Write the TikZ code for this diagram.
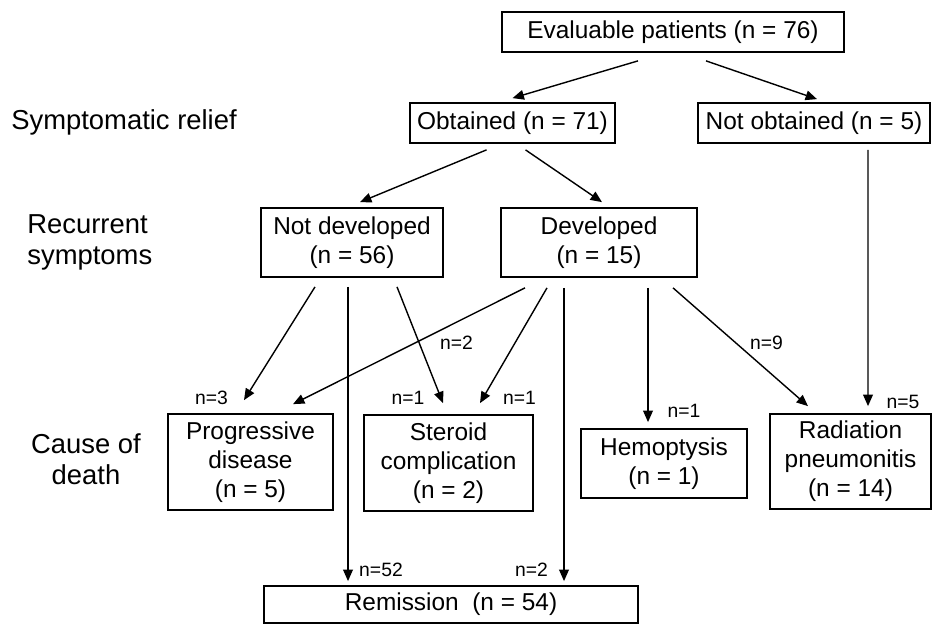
\documentclass[tikz,border=0pt]{standalone}
\usepackage{fontspec}
\setmainfont{Liberation Sans}
\usetikzlibrary{calc,arrows.meta}

\begin{document}
\begin{tikzpicture}[
  x=0.02cm, y=-0.02cm,
  box/.style={draw, line width=1pt, align=center, inner sep=0pt,
    font=\fontsize{13.9}{16.5}\selectfont},
  side/.style={align=center, inner sep=0pt, font=\fontsize{15.6}{17.6}\selectfont},
  num/.style={inner sep=0pt, font=\fontsize{11}{13}\selectfont},
  link/.style={draw, line width=0.8pt, -{Triangle[length=6.5pt,width=5.5pt]}}
]
\useasboundingbox (0,0) rectangle (932,625);

\node[side] (relief) at (124,122) {Symptomatic relief};
\node[side, align=left, anchor=west] (recur) at (27,242) {Recurrent\\symptoms};
\node[side] (cause) at (86,459) {Cause of\\death};

\node[box, minimum width=6.84cm, minimum height=0.8cm] (eval) at (673,32) {Evaluable patients (n = 76)};
\node[box, minimum width=4.1cm, minimum height=0.8cm] (obt) at (512.5,123) {Obtained (n = 71)};
\node[box, minimum width=4.64cm, minimum height=0.8cm] (nob) at (814,123) {Not obtained (n = 5)};
\node[box, minimum width=3.64cm, minimum height=1.38cm] (nodev) at (352,242.5) {Not developed\\(n = 56)};
\node[box, minimum width=3.92cm, minimum height=1.38cm] (dev) at (599,242.5) {Developed\\(n = 15)};
\node[box, minimum width=3.3cm, minimum height=1.92cm] (prog) at (250.5,462) {Progressive\\disease\\(n = 5)};
\node[box, minimum width=3.38cm, minimum height=1.92cm] (ster) at (448.5,463) {Steroid\\complication\\(n = 2)};
\node[box, minimum width=3.32cm, minimum height=1.38cm] (hemo) at (664,463.5) {Hemoptysis\\(n = 1)};
\node[box, minimum width=3.22cm, minimum height=1.9cm] (rad) at (850.5,461.5) {Radiation\\pneumonitis\\(n = 14)};
\node[box, minimum width=7.48cm, minimum height=0.74cm] (rem) at (451,604.5) {Remission~~(n = 54)};

\draw[link] ($(eval.south)+(-35,8)$) -- ($(obt.north)+(0,-4)$);
\draw[link] ($(eval.south)+(33,8)$) -- ($(nob.north)+(3,-3)$);
\draw[link] ($(obt.south)+(-26,6)$) -- ($(nodev.north)+(8,-5)$);
\draw[link] ($(obt.south)+(13,6)$) -- ($(dev.north)+(3,-5)$);
\draw[link] ($(nob.south)+(54,6)$) -- ($(rad.north)+(17.5,-7)$);
\draw[link] ($(nodev.south)+(-37,9)$) -- ($(prog.north)+(-6.5,-13)$);
\draw[link] ($(nodev.south)+(-4,9)$) -- ($(rem.north)+(-103,-4)$);
\draw[link] ($(nodev.south)+(45,9)$) -- ($(ster.north)+(-5.5,-11)$);
\draw[link] ($(dev.south)+(-74,10)$) -- ($(prog.north)+(42.5,-9)$);
\draw[link] ($(dev.south)+(-52,10)$) -- ($(ster.north)+(31.5,-11)$);
\draw[link] ($(dev.south)+(-35,10)$) -- ($(rem.north)+(113,-4)$);
\draw[link] ($(dev.south)+(49,10)$) -- ($(hemo.north)+(-16,-6)$);
\draw[link] ($(dev.south)+(74,10)$) -- ($(rad.north)+(-42.5,-7)$);

\node[num] (n3) at (211.5,398) {n=3};
\node[num] (n2a) at (456.5,343) {n=2};
\node[num] (n1a) at (408,398) {n=1};
\node[num] (n1b) at (519.5,398) {n=1};
\node[num] (n1c) at (684,411) {n=1};
\node[num] (n9) at (766.5,343) {n=9};
\node[num] (n5) at (903,402) {n=5};
\node[num] (n52) at (381,570) {n=52};
\node[num] (n2b) at (531.5,570) {n=2};
\end{tikzpicture}
\end{document}
